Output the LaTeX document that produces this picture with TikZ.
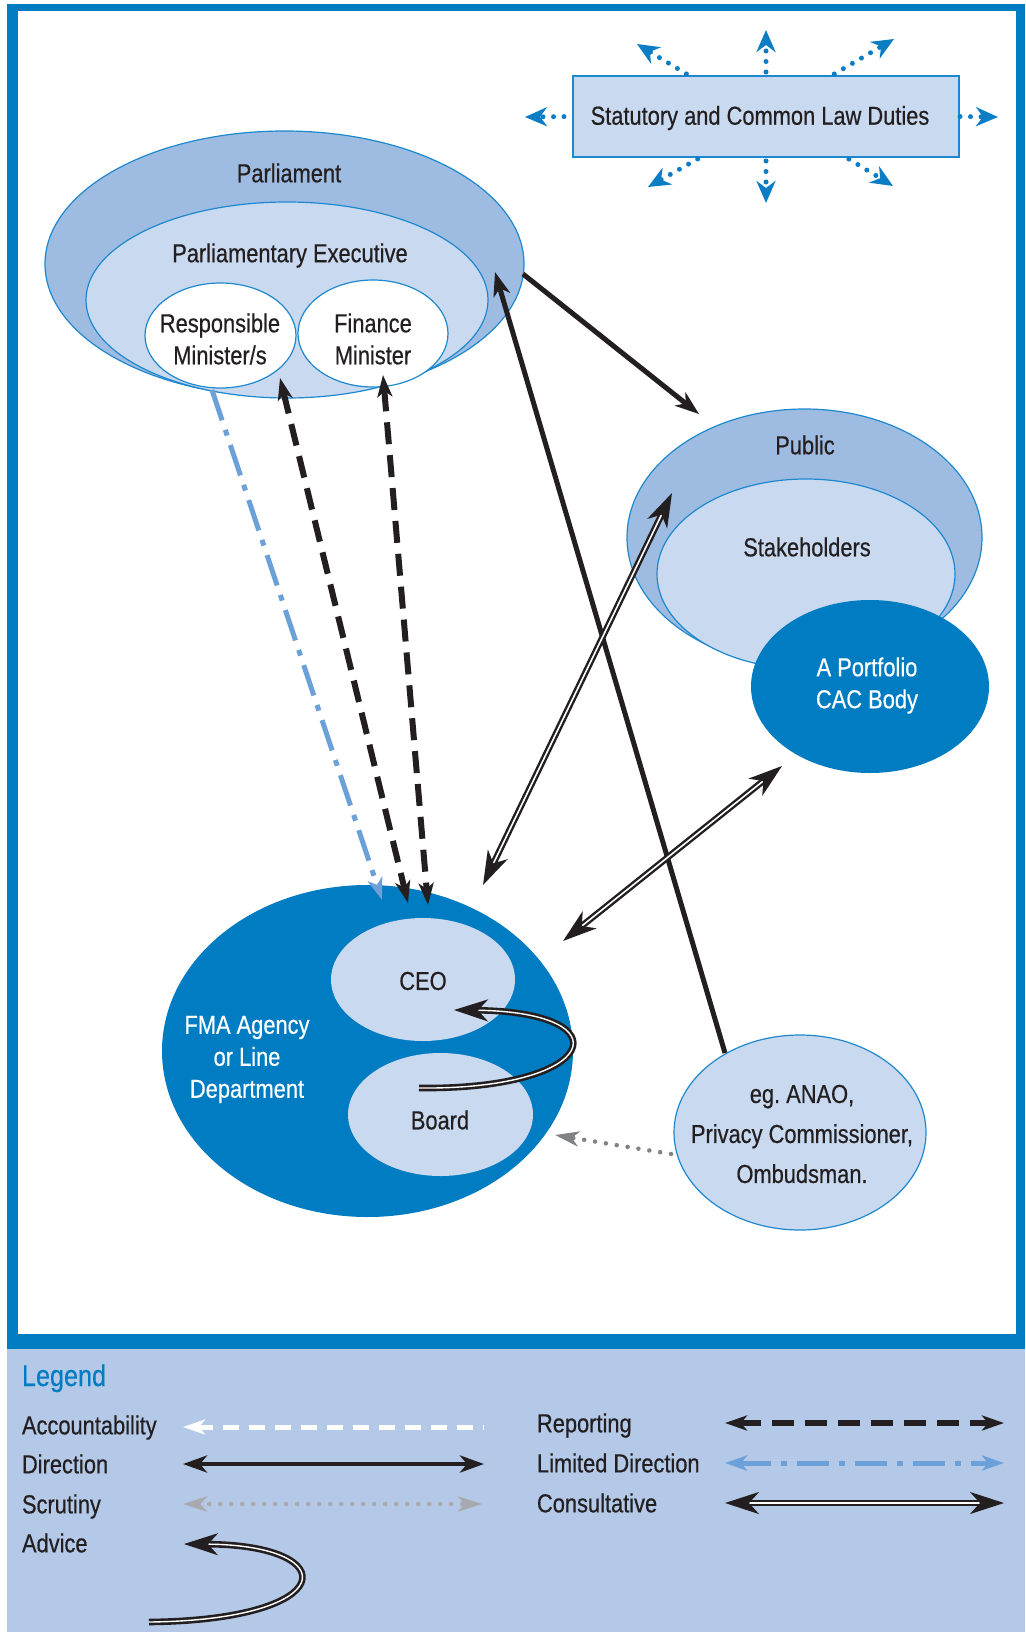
\documentclass[tikz,border=0pt]{standalone}
\usepackage{fontspec}
\setmainfont{Liberation Sans}[FakeStretch=0.84, FakeBold=0.5]
\usetikzlibrary{shapes.geometric,arrows.meta}

\definecolor{frameblue}{RGB}{0,124,194}
\definecolor{ringblue}{RGB}{158,188,225}
\definecolor{paleblue}{RGB}{201,217,239}
\definecolor{edgeblue}{RGB}{30,136,207}
\definecolor{legendbg}{RGB}{180,201,231}
\definecolor{inkdark}{RGB}{35,31,32}
\definecolor{limblue}{RGB}{108,160,216}
\definecolor{scrgray}{RGB}{128,130,133}
\definecolor{scrlight}{RGB}{167,169,172}
\definecolor{dutyblue}{RGB}{10,125,197}

\begin{document}
\frenchspacing
\begin{tikzpicture}[x=1pt, y=-1pt,
  every node/.style={inner sep=0pt, outer sep=0pt},
  ring/.style={ellipse, draw=edgeblue, line width=1.2pt, inner sep=0pt},
  solidoval/.style={ellipse, inner sep=0pt},
  lbl/.style={font=\fontsize{26}{32}\selectfont, text=inkdark, align=center},
  lgd/.style={font=\fontsize{26}{32}\selectfont, text=inkdark, anchor=base west},
  % connector looks
  dirhead/.tip={Stealth[length=24pt, width=17pt, inset=7pt]},
  dirarrow/.style={draw=inkdark, line width=5pt, -dirhead},
  dirboth/.style={draw=inkdark, line width=4.5pt, dirhead-dirhead},
  conhead/.tip={Stealth[length=34pt, width=22pt, inset=10pt]},
  consult/.style={draw=inkdark, line width=2.4pt, double=white, double distance=1.6pt, conhead-conhead},
  rephead/.tip={Stealth[length=22pt, width=15pt, inset=6pt]},
  report/.style={draw=inkdark, line width=6pt, dash pattern=on 22pt off 11pt, rephead-rephead},
  limdir/.style={draw=limblue, line width=5pt, dash pattern=on 32pt off 10pt on 6pt off 10pt},
  scrut/.style={line width=4.5pt, line cap=round, dash pattern=on 0pt off 11pt},
  advhead/.tip={Stealth[length=34pt, width=22pt, inset=10pt]},
  advice/.style={draw=inkdark, line width=2.6pt, double=white, double distance=1.4pt, -advhead},
  duty/.style={draw=dutyblue, line width=5pt, line cap=round, dash pattern=on 0pt off 10.5pt,
               shorten <=4pt, -{Stealth[length=22pt, width=19pt, inset=7pt]}},
  account/.style={draw=white, line width=5pt, dash pattern=on 16pt off 10pt, rephead-}
]
\useasboundingbox (0,0) rectangle (1025,1632);

% page frame and legend panel
\fill[white] (0,0) rectangle (1025,1632);
\fill[frameblue] (7,4) rectangle (1025,1349);
\fill[white] (18,11) rectangle (1016,1334);
\fill[legendbg] (7,1349) rectangle (1025,1632);

% statutory duties box
\node[draw=edgeblue, line width=1.2pt, fill=paleblue, minimum width=386pt, minimum height=81pt] (duties) at (766,116.5) {};
\node[lbl] (dutiesT) at (760,118) {Statutory and Common Law Duties};

% parliament group
\node[ring, fill=ringblue, minimum width=479pt, minimum height=266pt] (parl) at (284.5,264) {};
\node[ring, fill=paleblue, minimum width=402pt, minimum height=196pt] (pexec) at (287,300) {};
\node[ring, fill=white, minimum width=151pt, minimum height=105pt] (resp) at (220.5,335.5) {};
\node[ring, fill=white, minimum width=150pt, minimum height=107pt] (fin) at (373,333.5) {};
\node[lbl] (parlT) at (289,173) {Parliament};
\node[lbl] (pexecT) at (290,255.5) {Parliamentary Executive};
\node[lbl] (respT) at (220,339) {Responsible\\Minister/s};
\node[lbl] (finT) at (373,339) {Finance\\Minister};

% public group
\node[ring, fill=ringblue, minimum width=355pt, minimum height=257pt] (pub) at (804.5,537.5) {};
\node[ring, fill=paleblue, minimum width=298pt, minimum height=190pt] (stake) at (806,574) {};
\node[solidoval, fill=frameblue, minimum width=238pt, minimum height=173pt] (cac) at (870,686.5) {};
\node[lbl] (pubT) at (805,445) {Public};
\node[lbl] (stakeT) at (807,547) {Stakeholders};
\node[lbl, text=white] (cacT) at (867,685.5) {A Portfolio\\CAC Body};

% agency group
\node[solidoval, fill=frameblue, minimum width=411pt, minimum height=332pt] (fma) at (367.5,1051) {};
\node[solidoval, fill=paleblue, minimum width=184pt, minimum height=123pt] (ceo) at (423,979.5) {};
\node[solidoval, fill=paleblue, minimum width=185pt, minimum height=123pt] (board) at (440.5,1114.5) {};
\node[lbl, text=white] (fmaT) at (247,1059.5) {FMA Agency\\or Line\\Department};
\node[lbl] (ceoT) at (423,981) {CEO};
\node[lbl] (boardT) at (440,1120) {Board};

% independent scrutiny bodies
\node[ring, fill=paleblue, minimum width=252pt, minimum height=195pt] (omb) at (800,1132.5) {};
\node[lbl, font=\fontsize{26}{40}\selectfont] (ombT) at (802,1134) {eg. ANAO,\\Privacy Commissioner,\\Ombudsman.};

% duties radiating outwards
\coordinate (dN) at (766,30);
\coordinate (dS) at (766,203);
\coordinate (dW) at (525,117);
\coordinate (dE) at (998,117);
\coordinate (dNW) at (637,44);
\coordinate (dNE) at (894,39);
\coordinate (dSW) at (648,187);
\coordinate (dSE) at (893,186);
\draw[duty] (duties.north) -- (dN);
\draw[duty] (duties.south) -- (dS);
\draw[duty, shorten <=9pt] (duties.west) -- (dW);
\draw[duty, shorten <=1pt] (duties.east) -- (dE);
\draw[duty] (duties.152) -- (dNW);
\draw[duty] (duties.32) -- (dNE);
\draw[duty] (duties.212) -- (dSW);
\draw[duty] (duties.-27.4) -- (dSE);

% limited direction
\draw[limdir, -rephead] ([shift={(-8.5,54.5)}]resp.center) -- ([shift={(-41,-79.5)}]ceo.center);
% reporting
\draw[report] ([shift={(59.5,42.5)}]resp.center) -- ([shift={(-15,-76.5)}]ceo.center);
\draw[report] ([shift={(10,41.5)}]fin.center) -- ([shift={(5,-74.5)}]ceo.center);
% direction
\draw[dirarrow] ([shift={(238.5,10)}]parl.center) -- ([shift={(-105.5,-123.5)}]pub.center);
\draw[dirarrow] ([shift={(-75,-79.5)}]omb.center) -- ([shift={(210.5,8)}]parl.center);
% consultation
\draw[consult] ([shift={(115.5,-166)}]fma.center) -- ([shift={(-132.5,-44.5)}]pub.center);
\draw[consult] ([shift={(195.5,-110)}]fma.center) -- ([shift={(-88,79.5)}]cac.center);
% scrutiny
\draw[scrut, draw=scrgray, -{Stealth[length=24pt, width=15pt, inset=7pt]}]
  ([shift={(-129,21.5)}]omb.center) -- ([shift={(187.5,84)}]fma.center);
% advice
\draw[advice] ([shift={(-21.5,-26.5)}]board.center) .. controls +(181,2) and +(171,2) .. ([shift={(31,30.5)}]ceo.center);

% legend
\node[lgd, font=\fontsize{30}{34}\selectfont, text=frameblue] (lgdT) at (22,1386) {Legend};
\node[lgd] (lAcc) at (22,1434.3) {Accountability};
\node[lgd] (lDir) at (22,1473.3) {Direction};
\node[lgd] (lScr) at (22,1513.3) {Scrutiny};
\node[lgd] (lAdv) at (22,1552.3) {Advice};
\node[lgd] (lRep) at (537,1432.3) {Reporting};
\node[lgd] (lLim) at (537,1472.3) {Limited Direction};
\node[lgd] (lCon) at (537,1512.3) {Consultative};

\coordinate (accA) at (484,1427); \coordinate (accB) at (183,1427);
\coordinate (dirA) at (183,1464); \coordinate (dirB) at (484,1464);
\coordinate (scrA) at (183,1504); \coordinate (scrB) at (482,1504);
\coordinate (advA) at (149,1622); \coordinate (advB) at (184,1544);
\coordinate (repA) at (725,1423); \coordinate (repB) at (1004,1423);
\coordinate (limA) at (725,1463); \coordinate (limB) at (1004,1463);
\coordinate (conA) at (725,1503); \coordinate (conB) at (1004,1503);

\draw[account] (accB) -- (accA);
\draw[dirboth] (dirA) -- (dirB);
\draw[scrut, draw=scrlight, {Stealth[length=24pt, width=15pt, inset=7pt]}-{Stealth[length=24pt, width=15pt, inset=7pt]}] (scrA) -- (scrB);
\draw[advice] (advA) .. controls +(191,-2) and +(161,1) .. (advB);
\draw[report] (repA) -- (repB);
\draw[limdir, rephead-rephead] (limA) -- (limB);
\draw[consult] (conA) -- (conB);
\end{tikzpicture}
\end{document}
